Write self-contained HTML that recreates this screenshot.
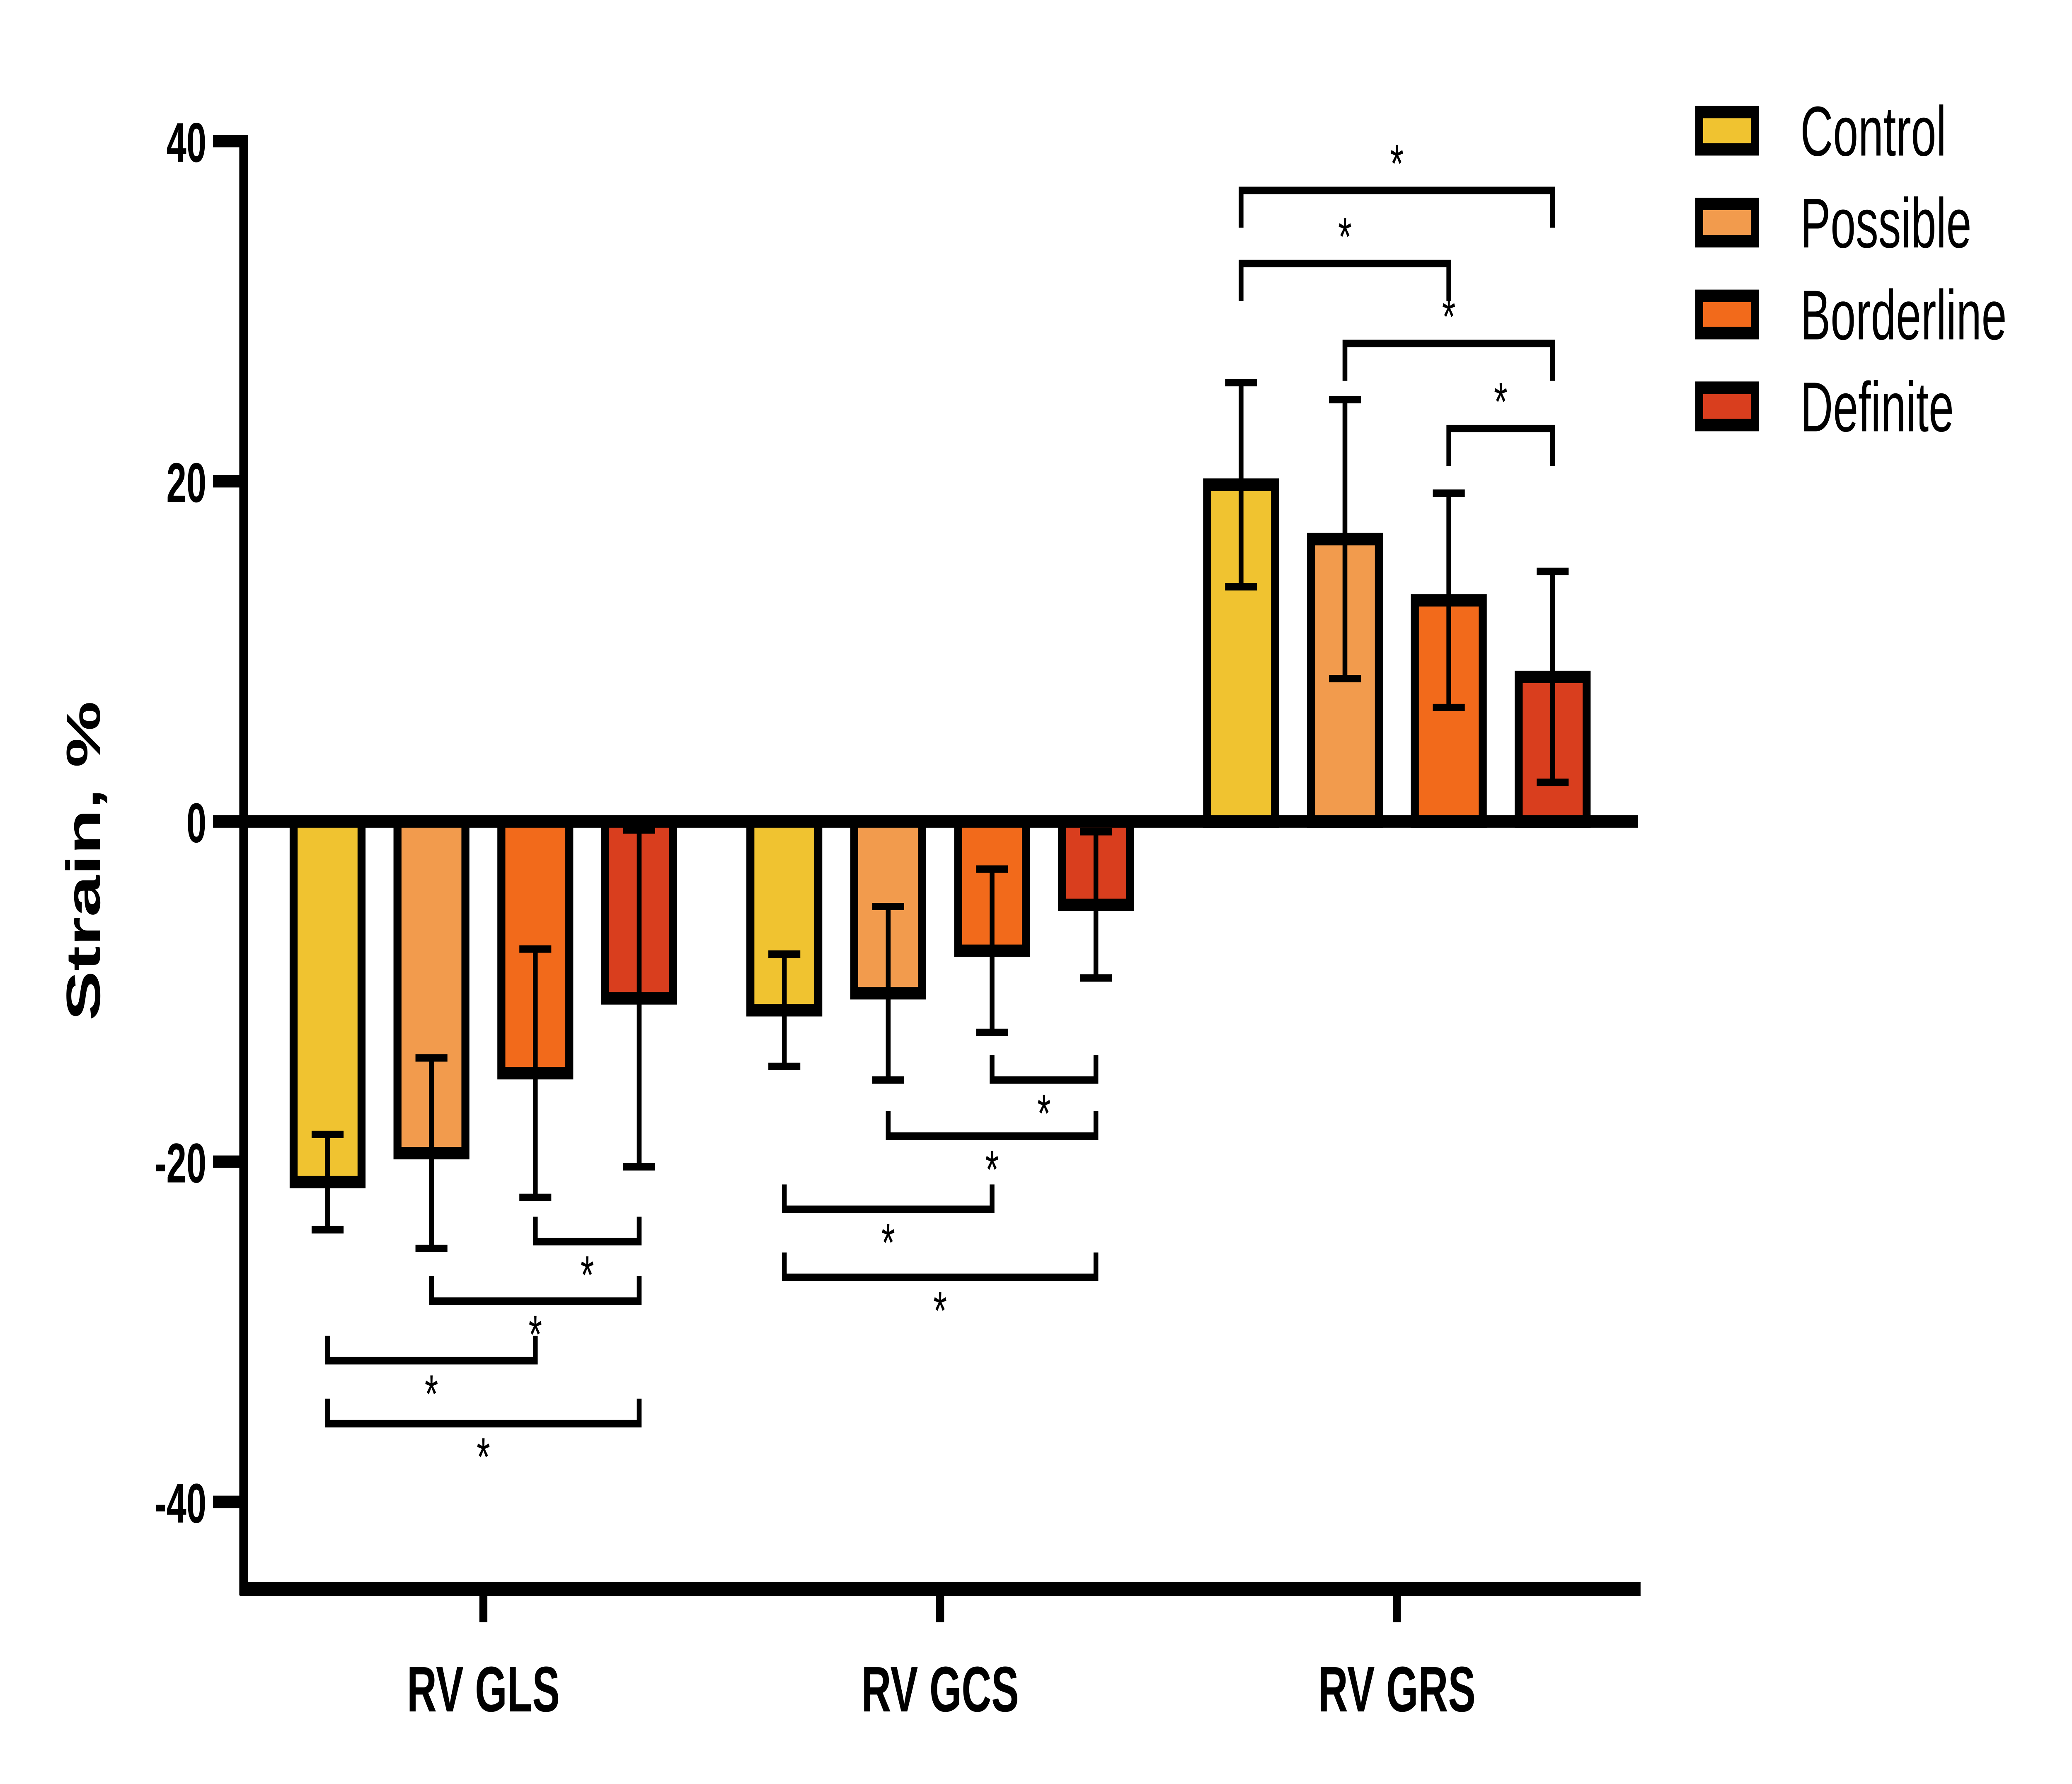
<!DOCTYPE html>
<html><head><meta charset="utf-8"><style>
html,body{margin:0;padding:0;background:#fff;width:100%;height:100%;overflow:hidden;}
svg{display:block;width:100vw;height:100vh;}
text{font-family:"Liberation Sans",Arial,sans-serif;}
</style></head>
<body>
<svg id="chart" viewBox="0 0 1556 860" preserveAspectRatio="none" xmlns="http://www.w3.org/2000/svg">
<g id="axes"></g>
<g id="bars"></g>
<g id="sig"></g>
<g id="legend"></g>
</svg>
<script>
const categories = ["RV GLS", "RV GCS", "RV GRS"];
const seriesNames = ["Control", "Possible", "Borderline", "Definite"];
const seriesColors = ["#F0C330", "#F29B4D", "#F26A1B", "#D93E1E"];
const controlMeans = [-21.2, -11.1, 19.8];
const possibleMeans = [-19.5, -10.1, 16.6];
const borderlineMeans = [-14.8, -7.6, 13.0];
const definiteMeans = [-10.4, -4.9, 8.5];
const controlSD = [2.8, 3.3, 6.0];
const possibleSD = [5.6, 5.1, 8.2];
const borderlineSD = [7.3, 4.8, 6.3];
const definiteSD = [9.9, 4.3, 6.2];
const yTicks = [40, 20, 0, -20, -40];
// brackets: [category, seriesA, seriesB, level value (strain %)]
const brackets = [
  [0, 2, 3, -24.7], [0, 1, 3, -28.2], [0, 0, 2, -31.7], [0, 0, 3, -35.4],
  [1, 2, 3, -15.2], [1, 1, 3, -18.5], [1, 0, 2, -22.8], [1, 0, 3, -26.8],
  [2, 0, 3, 37.1], [2, 0, 2, 32.8], [2, 1, 3, 28.1], [2, 2, 3, 23.1]
];

const means = [controlMeans, possibleMeans, borderlineMeans, definiteMeans];
const sds = [controlSD, possibleSD, borderlineSD, definiteSD];
const NS = "http://www.w3.org/2000/svg";
const y = v => 396 - v * 8.2;
const groupX = i => 363 + i * 343;
const barX = (c, s) => groupX(c) + (s - 1.5) * 78;
const BW = 57;

function mk(parent, tag, attrs, txt) {
  const e = document.createElementNS(NS, tag);
  for (const k in attrs) e.setAttribute(k, attrs[k]);
  if (txt !== undefined) e.textContent = txt;
  parent.appendChild(e);
  return e;
}
const axes = document.getElementById("axes");
const barsG = document.getElementById("bars");
const sigG = document.getElementById("sig");
const legG = document.getElementById("legend");

for (let s = 0; s < 4; s++) {
  for (let c = 0; c < 3; c++) {
    const m = means[s][c], sd = sds[s][c], cx = barX(c, s);
    const top = Math.min(y(m), y(0)), h = Math.abs(y(m) - y(0));
    const r = mk(barsG, "rect", {x: cx - BW/2 + 3, y: top, width: BW - 6, height: h, fill: seriesColors[s], stroke: "#000", "stroke-width": 6});
    
    
    const eb = mk(barsG, "path", {d: `M${cx} ${y(m+sd)}V${y(m-sd)}M${cx-12} ${y(m+sd)}H${cx+12}M${cx-12} ${y(m-sd)}H${cx+12}`, stroke: "#000", "stroke-width": 3.6, fill: "none"});
    
    
  }
}

const zl = mk(axes, "line", {x1: 183, x2: 1230, y1: y(0), y2: y(0), stroke: "#000", "stroke-width": 6});


const ya = mk(axes, "line", {x1: 183, x2: 183, y1: y(40) - 3, y2: 769, stroke: "#000", "stroke-width": 6.6});


const xa = mk(axes, "line", {x1: 180, x2: 1232, y1: 766, y2: 766, stroke: "#000", "stroke-width": 6.6});


yTicks.forEach(t => {
  const tk = mk(axes, "line", {x1: 160, x2: 183, y1: y(t), y2: y(t), stroke: "#000", "stroke-width": 6});
  
  
  const tl = mk(axes, "text", {x: 155, y: y(t) + 10, "text-anchor": "end", "font-size": 27, "font-weight": "bold"}, String(t));
  
  
});
categories.forEach((c, i) => {
  const tk = mk(axes, "line", {x1: groupX(i), x2: groupX(i), y1: 766, y2: 782, stroke: "#000", "stroke-width": 6});
  
  
  const tl = mk(axes, "text", {x: groupX(i), y: 825, "text-anchor": "middle", "font-size": 31, "font-weight": "bold"}, c);
  
  
});
const yt = mk(axes, "text", {x: 0, y: 0, transform: "translate(75,415) rotate(-90)", "text-anchor": "middle", "font-size": 36, "font-weight": "bold"}, "Strain, %");



brackets.forEach(b => {
  const [c, a, bb, lv] = b;
  const x1 = barX(c, a), x2 = barX(c, bb), yy = y(lv);
  const tip = lv < 0 ? yy - 12 : yy + 18;
  const p = mk(sigG, "path", {d: `M${x1} ${tip}V${yy}H${x2}V${tip}`, stroke: "#000", "stroke-width": 3.6, fill: "none"});
  
  
  const sy = lv < 0 ? yy + 25 : yy - 4;
  const st = mk(sigG, "text", {x: (x1 + x2) / 2, y: sy, "text-anchor": "middle", "font-size": 26}, "*");
  
  
});

seriesNames.forEach((n, i) => {
  const cy = 63 + i * 44.3;
  const r = mk(legG, "rect", {x: 1276, y: cy - 9, width: 42, height: 18, fill: seriesColors[i], stroke: "#000", "stroke-width": 6});
  
  
  const t = mk(legG, "text", {x: 1352, y: cy + 12, "font-size": 34}, n);
  
  
});
</script>
</body></html>
